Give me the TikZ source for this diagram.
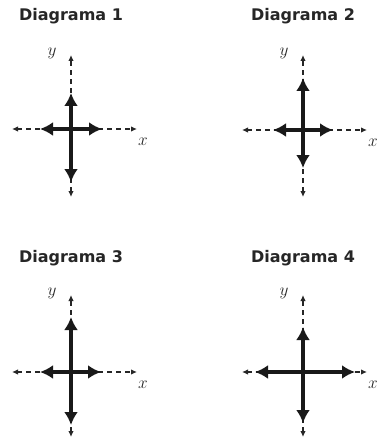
\documentclass[tikz,border=0pt]{standalone}
\usepackage{fontspec}
\newfontfamily\titlefont{DejaVu Sans}
\usetikzlibrary{arrows.meta}

\tikzset{
  axisline/.style={line width=1.4pt, dash pattern=on 5pt off 4pt, black!85,
    {Latex[length=6pt,width=5.5pt]}-{Latex[length=6pt,width=5.5pt]}},
  vecline/.style={line width=4.3pt, black!90, -{Latex[length=13pt,width=14pt]}},
  titlelabel/.style={font=\titlefont\bfseries\fontsize{16}{16}\selectfont, text=black!85},
  axislabel/.style={font=\fontsize{19}{19}\selectfont, inner sep=0pt, text=black!85}
}

\begin{document}
\begin{tikzpicture}[x=1pt,y=-1pt]
\useasboundingbox (0,0) rectangle (380,441);

% n / centre / title y / axis ends / vector tips
\foreach \n/\cx/\cy/\ty/\yt/\yb/\xl/\xr/\up/\dn/\lf/\rt in {
    1/71/129/16/55/197/12/137/93/182/40/102,
    2/303/130/16/55/197/242/367/78/168/273/333,
    3/71/372/258/295/437/12/137/317/425/40/101,
    4/303/372/258/295/437/242/367/327/423/255/355} {
  \node[titlelabel] (t\n) at (\cx,\ty) {Diagrama \n};
  \coordinate (o\n) at (\cx,\cy);
  \coordinate (at\n) at (\cx,\yt);
  \coordinate (ab\n) at (\cx,\yb);
  \coordinate (al\n) at (\xl,\cy);
  \coordinate (ar\n) at (\xr,\cy);
  \coordinate (vu\n) at (\cx,\up);
  \coordinate (vd\n) at (\cx,\dn);
  \coordinate (vl\n) at (\lf,\cy);
  \coordinate (vr\n) at (\rt,\cy);
  \node[axislabel] (ylab\n) at ([xshift=-19pt,yshift=2pt]at\n) {$y$};
  \node[axislabel] (xlab\n) at ([xshift=6pt,yshift=-13pt]ar\n) {$x$};
  % dashed axes
  \draw[axisline] (ab\n) -- (at\n);
  \draw[axisline] (al\n) -- (ar\n);
  % solid vectors
  \draw[vecline] (o\n) -- (vu\n);
  \draw[vecline] (o\n) -- (vd\n);
  \draw[vecline] (o\n) -- (vl\n);
  \draw[vecline] (o\n) -- (vr\n);
}
\end{tikzpicture}
\end{document}
